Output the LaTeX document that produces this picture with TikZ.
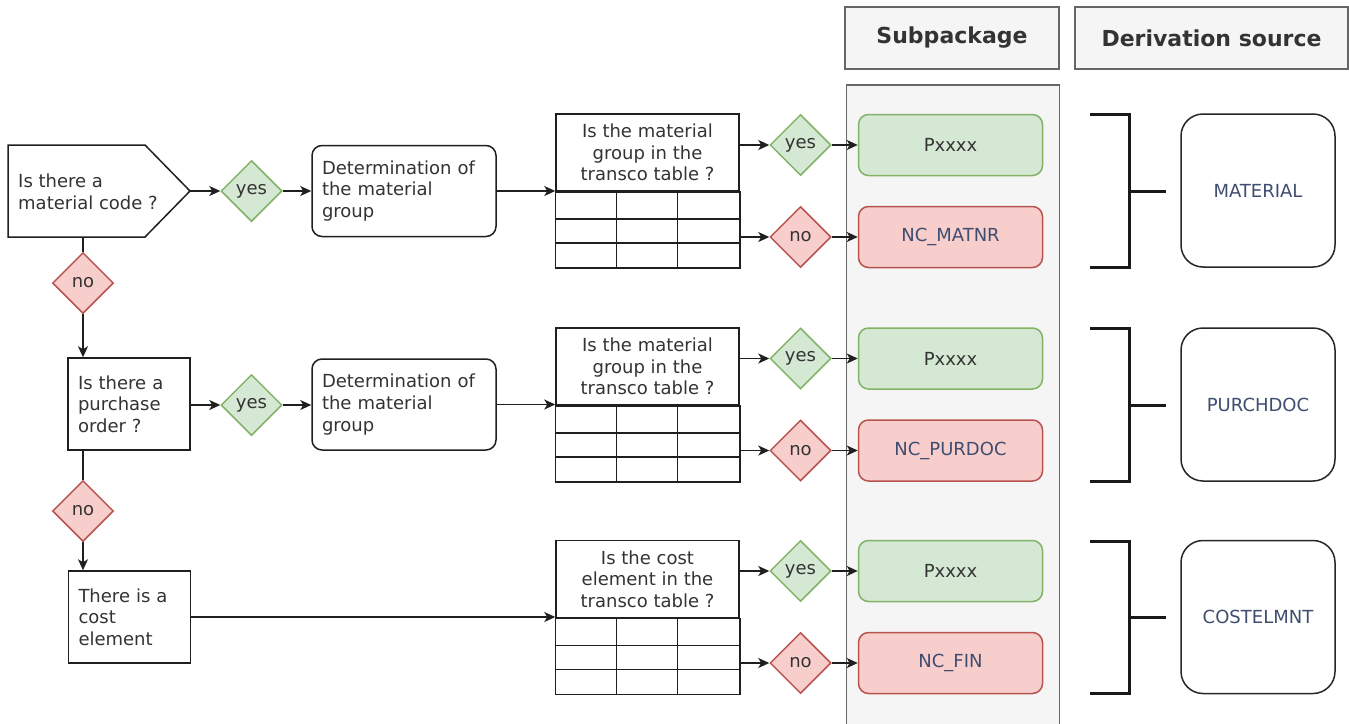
\documentclass[tikz,border=0pt]{standalone}
\usepackage{fontspec}
\setmainfont{DejaVu Sans}
\usetikzlibrary{shapes.geometric,arrows.meta,calc}
\definecolor{gfill}{HTML}{D5E8D4}
\definecolor{gline}{HTML}{82B366}
\definecolor{rfill}{HTML}{F8CECC}
\definecolor{rline}{HTML}{B85450}
\definecolor{pfill}{HTML}{F5F5F5}
\definecolor{pline}{HTML}{666666}
\definecolor{txt}{HTML}{333333}
\definecolor{slate}{HTML}{3F4D70}
\newcommand{\tgrid}[1]{%
  \draw[ln] (#1.south west) rectangle ($(#1.south east)+(0,76)$);
  \draw[ln] ($(#1.south west)+(0,27)$) -- ($(#1.south east)+(0,27)$);
  \draw[ln] ($(#1.south west)+(0,51)$) -- ($(#1.south east)+(0,51)$);
  \draw[ln] ($(#1.south west)+(61,0)$) -- ($(#1.south west)+(61,76)$);
  \draw[ln] ($(#1.south west)+(122,0)$) -- ($(#1.south west)+(122,76)$);
}
\begin{document}
\begin{tikzpicture}[x=1pt,y=-1pt,
  every node/.style={font=\fontsize{18}{21.6}\selectfont, text=txt},
  ln/.style={line width=1.5pt, draw=black!88},
  arr/.style={ln, -{Stealth[length=11pt,width=10pt,inset=3pt]}},
  yesd/.style={diamond, aspect=1, minimum width=61pt, minimum height=61pt, inner sep=0pt, fill=gfill, draw=gline, line width=1.5pt},
  nod/.style={diamond, aspect=1, minimum width=61pt, minimum height=61pt, inner sep=0pt, fill=rfill, draw=rline, line width=1.5pt},
  rbox/.style={rectangle, rounded corners=10pt, draw=black!88, line width=1.5pt, minimum width=184pt, minimum height=91pt, inner xsep=10pt, text width=164pt, align=left},
  sbox/.style={rectangle, draw=black!88, line width=1.5pt, minimum width=122pt, minimum height=92pt, inner xsep=10pt, text width=102pt, align=left},
  thead/.style={rectangle, draw=black!88, line width=1.5pt, minimum width=183pt, minimum height=77pt, align=center, inner sep=0pt},
  pbox/.style={rectangle, rounded corners=10pt, minimum width=184pt, minimum height=61pt, fill=gfill, draw=gline, line width=1.5pt},
  nbox/.style={rectangle, rounded corners=10pt, minimum width=184pt, minimum height=61pt, fill=rfill, draw=rline, line width=1.5pt, text=slate},
  srcbox/.style={rectangle, rounded corners=22pt, draw=black!85, line width=1.5pt, minimum width=154pt, minimum height=153pt, text=slate},
  brk/.style={line width=3pt, draw=black!90},
  hdr/.style={rectangle, fill=pfill, draw=pline, line width=1.5pt, minimum height=62pt, font=\fontsize{22}{26}\selectfont\bfseries},
]
\useasboundingbox (0,0) rectangle (1349,723);
\fill[white] (0,0) rectangle (1349,723);

% headers and subpackage column
\node[hdr, minimum width=214pt] (h1) at (952,38) {Subpackage};
\node[hdr, minimum width=273pt] (h2) at (1211.5,38) {Derivation source};
\node[rectangle, fill=pfill, draw=pline, line width=1.5pt, minimum width=213pt, minimum height=660pt, anchor=north west] (col) at (845.5,84) {};

% ---------- row 1 ----------
\coordinate (q1tip) at (190,191);
\coordinate (q1base) at (8,237);
\draw[ln, fill=white] (8,145) -- (145,145) -- (q1tip) -- (145,237) -- (q1base) -- cycle;
\node[align=left, anchor=west, inner xsep=10pt, inner ysep=0pt] (q1) at (8,192) {Is there a\\material code ?};
\node[yesd] (y1) at (251.5,191) {yes};
\node[rbox] (d1) at (404,191) {Determination of\\the material\\group};
\node[thead] (t1) at (647.5,152.5) {Is the material\\group in the\\transco table ?};
\tgrid{t1}
\node[yesd] (ty1) at (800.5,145) {yes};
\node[nod] (tn1) at (800.5,237) {no};
\node[pbox] (P1) at (950.5,145) {Pxxxx};
\node[nbox] (N1) at (950.5,237) {NC\_MATNR};
\draw[brk] (1090,114) -- (1129,114) -- (1129,267) -- (1090,267);
\draw[brk] (1129,191) -- (1166,191);
\node[srcbox] (M1) at (1258,190.5) {MATERIAL};

\draw[arr] (q1tip) -- (y1.west);
\draw[arr] (y1.east) -- (d1.west);
\draw[arr] (d1.east) -- (d1.east -| t1.south west);
\draw[arr] (ty1.west -| t1.east) -- (ty1.west);
\draw[arr] (tn1.west -| t1.east) -- (tn1.west);
\draw[arr] (ty1.east) -- (P1.west);
\draw[arr] (tn1.east) -- (N1.west);

% ---------- row 2 ----------
\node[nod] (n1) at (83,283) {no};
\node[sbox] (q2) at (129,404) {Is there a\\purchase\\order ?};
\node[yesd] (y2) at (251.5,405) {yes};
\node[rbox] (d2) at (404,404.5) {Determination of\\the material\\group};
\node[thead] (t2) at (647.5,366.5) {Is the material\\group in the\\transco table ?};
\tgrid{t2}
\node[yesd] (ty2) at (800.5,358.5) {yes};
\node[nod] (tn2) at (800.5,450.5) {no};
\node[pbox] (P2) at (950.5,358.5) {Pxxxx};
\node[nbox] (N2) at (950.5,450.5) {NC\_PURDOC};
\draw[brk] (1090,328) -- (1129,328) -- (1129,481) -- (1090,481);
\draw[brk] (1129,405) -- (1166,405);
\node[srcbox] (M2) at (1258,404.5) {PURCHDOC};

\draw[ln] (q1base -| n1.north) -- (n1.north);
\draw[arr] (n1.south) -- (n1.south |- q2.north);
\draw[arr] (q2.east |- y2.west) -- (y2.west);
\draw[arr] (y2.east) -- (d2.west |- y2.east);
\draw[arr] (d2.east) -- (d2.east -| t2.south west);
\draw[arr] (ty2.west -| t2.east) -- (ty2.west);
\draw[arr] (tn2.west -| t2.east) -- (tn2.west);
\draw[arr] (ty2.east) -- (P2.west);
\draw[arr] (tn2.east) -- (N2.west);

% ---------- row 3 ----------
\node[nod] (n2) at (83,511) {no};
\node[sbox] (q3) at (129.5,617) {There is a\\cost\\element};
\node[thead] (t3) at (647.5,579) {Is the cost\\element in the\\transco table ?};
\tgrid{t3}
\node[yesd] (ty3) at (800.5,571) {yes};
\node[nod] (tn3) at (800.5,663) {no};
\node[pbox] (P3) at (950.5,571) {Pxxxx};
\node[nbox] (N3) at (950.5,663) {NC\_FIN};
\draw[brk] (1090,541) -- (1129,541) -- (1129,693) -- (1090,693);
\draw[brk] (1129,617) -- (1166,617);
\node[srcbox] (M3) at (1258,617) {COSTELMNT};

\draw[ln] (q2.south -| n2.north) -- (n2.north);
\draw[arr] (n2.south) -- (n2.south |- q3.north);
\draw[arr] (q3.east) -- (q3.east -| t3.south west);
\draw[arr] (ty3.west -| t3.east) -- (ty3.west);
\draw[arr] (tn3.west -| t3.east) -- (tn3.west);
\draw[arr] (ty3.east) -- (P3.west);
\draw[arr] (tn3.east) -- (N3.west);
\end{tikzpicture}
\end{document}
